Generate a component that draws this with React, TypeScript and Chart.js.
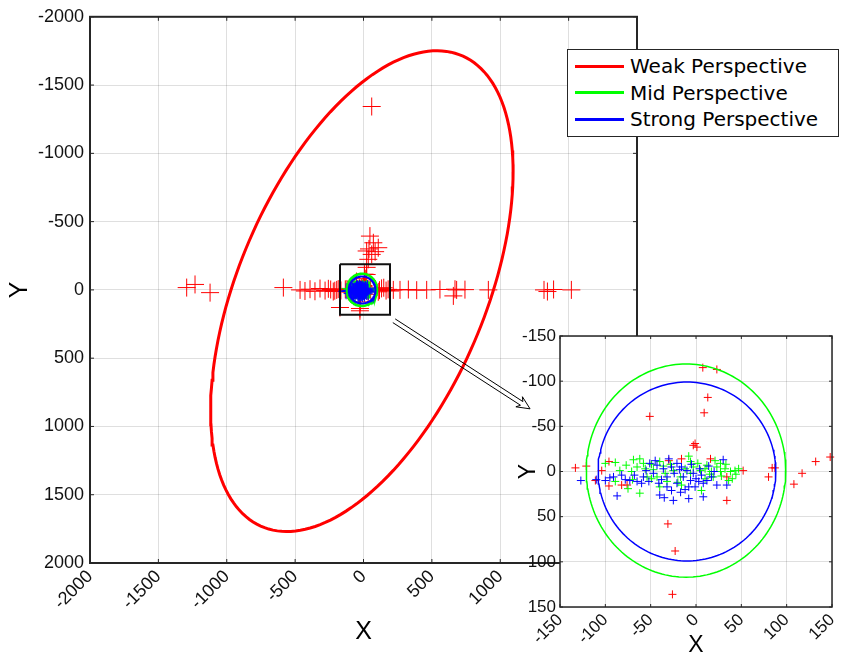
import { useEffect, useRef } from 'react';
import { Chart, registerables } from 'chart.js';

Chart.register(...registerables);
Chart.defaults.font.family = '"Liberation Sans", Arial, Helvetica, sans-serif';

// ---------- data ----------
const RED_X = [
  -1293, -1232, -1122, -586,
  -464, -428, -391, -355, -318, -281, -257, -240, -221, -210, -196, -185, -165,
  -172, -26,
  47, 72, 108, 23, 60, 35, 23, 40, 85,
  60,
  165, 180, 195, 218, 267, 328, 389, 462, 559, 669, 657, 681, 742, 913,
  1320, 1345, 1390, 1520,
  // central (visible in the zoom)
  7.5, 23, 13, 9, -51, -1, 1, -3, -133, -121, -104, -111, -96, -96, -30, -16, 16,
  -76, -82, 52, 34, 34, 80, 84, 87, 108, 117, 132, 148, -31, -23, -26,
];
const RED_Y = [
  -17, -40, 20, -17,
  0, 8, -5, 10, -10, 5, -8, -3, 12, 6, 0, -6, 4,
  129, 153,
  -394, -345, -309, -285, -260, -224, -165, -300, -280,
  -1343,
  5, -4, 8, 0, 0, -3, 2, 0, -3, -5, 44, 0, -2, 0,
  0, 12, -3, 0,
  -115, -113, -82, -65, -61, -31, -27, -29, -4, -6, -1, 10, -11, 16, -12, -14, -14,
  15, 15, -1, 6, 32, 6, -4, -4, 14, 2, -11, -16, 58, 88, 136,
];

const GREEN_X = [
  -100, -89, -77, -69, -62, -65, -71, -75, -62, -56, -49, -43, -40, -34, -25, -17,
  -8, -3, 5, 12, 17, 23, 27, 32, 38, 43, 47, 36, 6, -54, -84, -32, 19, -6, -89,
  27, 40, 10, -16, -40, -49, -58, -47, -28, -12, 2, 15, 28, 44, -70, -36, -20, 21,
  33, -6, 10,
];
const GREEN_Y = [
  -9, -10, -7, -13, -14, -5, 0, 19, 24, -3, -8, 6, -11, 2, -1, 6,
  -17, -5, -1, -7, 0, -5, 0, -3, 0, -1, -3, 10, 21, 6, -1, 11, 6, 2, 11,
  -9, 8, 8, 15, 17, 8, -9, -2, -8, -3, -9, 3, 5, 3, 9, -6, 12, -12,
  -8, -11, -3,
];

const BLUE_X = [
  -127, -87, -100, -91, -82, -73, -65, -58, -52, -51, -43, -47, -40, -35, -25, -8,
  8, -32, -27, -21, -14, -10, -3, 3, 8, 12, 17, 23, 30, 34, -27, -21, -16, -36,
  -32, -6, -1, 6, -8, -17, -41, -60, -45, -30, -18, -5, 4, 14, -38, -24, -12, 0,
  20, -55, -68, -78, -95, -110,
];
const BLUE_Y = [
  10, 27, 10, 6, 4, 10, 11, 6, 11, -9, -7, 2, 26, 29, 32, 30,
  28, 17, 21, 13, 6, -1, 2, 11, 13, 10, 6, 15, -13, 15, -5, -9, -5, -3,
  6, 10, 17, 4, 17, 23, 13, 13, -12, -14, -2, -8, -3, -6, 9, 2, 20, 8,
  0, -1, 4, 9, 7, 9,
];

// red confidence ellipse: centre and covariance-like shape matrix
const ELLIPSE_CENTER = [-12, 9];
const ELLIPSE_SHAPE = [[1223236, -967000], [-967000, 3099360]];
// green / blue bounds: [cx, cy, rx, ry]
const GREEN_BOUND = [-11, -1, 110, 118];
const BLUE_BOUND = [-10, 0, 98, 99];

// zoom box and arrow (data units of the main axes)
const BOX_X = [-172, 194, 194, -172, -172];
const BOX_Y = [-188, -188, 182, 182, -188];
const ARROW_FROM = [223, 226];
const ARROW_TO = [1218, 871];

const MAIN_TICKS = [-2000, -1500, -1000, -500, 0, 500, 1000, 1500, 2000];
const MAIN_X_LABELS = ['-2000', '-1500', '-1000', '-500', '0', '500', '1000', '', ''];
const MAIN_Y_LABELS = ['-2000', '-1500', '-1000', '-500', '0', '500', '1000', '1500', '2000'];
const INSET_TICKS = [-150, -100, -50, 0, 50, 100, 150];
const INSET_LABELS = ['-150', '-100', '-50', '0', '50', '100', '150'];

const SERIES = ['Weak Perspective', 'Mid Perspective', 'Strong Perspective'];
const COLORS = ['#ff0000', '#00ff00', '#0000ff'];

// ---------- helpers ----------
const N_SEG = 180;
function ellipseFromShape(c: number[], m: number[][]) {
  const l11 = Math.sqrt(m[0][0]);
  const l21 = m[0][1] / l11;
  const l22 = Math.sqrt(m[1][1] - l21 * l21);
  const pts = [];
  for (let i = 0; i <= N_SEG; i++) {
    const t = (2 * Math.PI * i) / N_SEG;
    pts.push({ x: c[0] + l11 * Math.cos(t), y: c[1] + l21 * Math.cos(t) + l22 * Math.sin(t) });
  }
  return pts;
}
function ellipseFromBound(b: number[]) {
  const pts = [];
  for (let i = 0; i <= N_SEG; i++) {
    const t = (2 * Math.PI * i) / N_SEG;
    pts.push({ x: b[0] + b[2] * Math.cos(t), y: b[1] + b[3] * Math.sin(t) });
  }
  return pts;
}
const zip = (xs: number[], ys: number[]) => xs.map((x, i) => ({ x, y: ys[i] }));
const inRange = (lim: number) => (p: { x: number; y: number }) =>
  Math.abs(p.x) <= lim && Math.abs(p.y) <= lim;

const GRID = 'rgba(38,38,38,0.15)';
const AXIS = '#262626';

function framePlugin(tickLen: number, lineW: number, whiteBg: boolean) {
  return {
    id: 'frame',
    beforeDraw(chart: any) {
      if (!whiteBg) return;
      const { ctx, chartArea: a } = chart;
      ctx.save();
      ctx.fillStyle = '#ffffff';
      ctx.fillRect(a.left, a.top, a.right - a.left, a.bottom - a.top);
      ctx.restore();
    },
    afterDraw(chart: any) {
      const { ctx, chartArea: a } = chart;
      const sx = chart.scales.x;
      const sy = chart.scales.y;
      ctx.save();
      ctx.strokeStyle = AXIS;
      ctx.lineWidth = 1;
      ctx.beginPath();
      sx.ticks.forEach((t: any) => {
        const p = sx.getPixelForValue(t.value);
        ctx.moveTo(p, a.bottom);
        ctx.lineTo(p, a.bottom - tickLen);
        ctx.moveTo(p, a.top);
        ctx.lineTo(p, a.top + tickLen);
      });
      sy.ticks.forEach((t: any) => {
        const p = sy.getPixelForValue(t.value);
        ctx.moveTo(a.left, p);
        ctx.lineTo(a.left + tickLen, p);
        ctx.moveTo(a.right, p);
        ctx.lineTo(a.right - tickLen, p);
      });
      ctx.stroke();
      ctx.lineWidth = lineW;
      ctx.strokeRect(a.left, a.top, a.right - a.left, a.bottom - a.top);
      ctx.restore();
    },
  };
}

const arrowPlugin = {
  id: 'arrow',
  afterDatasetsDraw(chart: any) {
    const sx = chart.scales.x;
    const sy = chart.scales.y;
    const x0 = sx.getPixelForValue(ARROW_FROM[0]);
    const y0 = sy.getPixelForValue(ARROW_FROM[1]);
    const x1 = sx.getPixelForValue(ARROW_TO[0]);
    const y1 = sy.getPixelForValue(ARROW_TO[1]);
    const len = Math.hypot(x1 - x0, y1 - y0);
    const ux = (x1 - x0) / len;
    const uy = (y1 - y0) / len;
    const nx = -uy;
    const ny = ux;
    const g = 2.2;
    const hl = 13;
    const hw = 6;
    const { ctx } = chart;
    ctx.save();
    ctx.strokeStyle = '#000';
    ctx.lineWidth = 1;
    ctx.beginPath();
    for (const s of [1, -1]) {
      ctx.moveTo(x0 + s * g * nx, y0 + s * g * ny);
      ctx.lineTo(x1 - ux * (hl - 3) + s * g * nx, y1 - uy * (hl - 3) + s * g * ny);
      ctx.lineTo(x1 - ux * hl + s * hw * nx, y1 - uy * hl + s * hw * ny);
      ctx.lineTo(x1, y1);
    }
    ctx.stroke();
    ctx.restore();
  },
};

function makeScale(opts: any) {
  const { ticks, labels, reverse, fontSize, padding, title, titleSize, titlePad, titleLH, horizontal, fit } = opts;
  return {
    type: 'linear',
    min: ticks[0],
    max: ticks[ticks.length - 1],
    reverse,
    afterBuildTicks: (s: any) => {
      s.ticks = ticks.map((v: number) => ({ value: v }));
    },
    afterFit: (s: any) => {
      if (horizontal) {
        s.height = fit;
        s.paddingRight = 0;
      } else {
        s.width = fit;
      }
    },
    ticks: {
      autoSkip: false,
      minRotation: horizontal ? 45 : 0,
      maxRotation: horizontal ? 45 : 0,
      padding,
      color: '#111',
      font: { size: fontSize },
      callback: (v: number) => {
        const i = ticks.indexOf(v);
        return i >= 0 ? labels[i] : '';
      },
    },
    grid: { color: GRID, lineWidth: 1, drawTicks: false },
    border: { display: false },
    title: {
      display: true,
      text: title,
      color: '#000',
      font: { size: titleSize, lineHeight: titleLH },
      padding: horizontal ? { top: 0, bottom: titlePad } : { top: titlePad, bottom: 0 },
    },
  };
}

function pointsDs(data: any[], color: string, r: number, order: number, clip: any) {
  return {
    data,
    showLine: false,
    pointStyle: 'cross',
    pointRadius: r,
    pointBorderWidth: 1,
    borderColor: color,
    backgroundColor: color,
    order,
    clip,
  };
}
function lineDs(data: any[], color: string, w: number, order: number) {
  return {
    data,
    showLine: true,
    pointRadius: 0,
    borderColor: color,
    backgroundColor: color,
    borderWidth: w,
    fill: false,
    tension: 0,
    order,
  };
}

export default function App() {
  const mainRef = useRef<HTMLCanvasElement>(null);
  const insetRef = useRef<HTMLCanvasElement>(null);

  useEffect(() => {
    const red = zip(RED_X, RED_Y);
    const green = zip(GREEN_X, GREEN_Y);
    const blue = zip(BLUE_X, BLUE_Y);
    const ell = ellipseFromShape(ELLIPSE_CENTER, ELLIPSE_SHAPE);
    const gC = ellipseFromBound(GREEN_BOUND);
    const bC = ellipseFromBound(BLUE_BOUND);
    const box = zip(BOX_X, BOX_Y);

    const main = new Chart(mainRef.current as HTMLCanvasElement, {
      type: 'scatter',
      data: {
        datasets: [
          pointsDs(red, COLORS[0], 9, 9, false),
          pointsDs(green, COLORS[1], 8, 8, false),
          pointsDs(blue, COLORS[2], 8, 7, false),
          lineDs(ell, COLORS[0], 3, 4),
          lineDs(gC, COLORS[1], 2.5, 3),
          lineDs(bC, COLORS[2], 2, 2),
          lineDs(box, '#111', 2, 1),
        ] as any,
      },
      options: {
        animation: false,
        responsive: false,
        devicePixelRatio: 1,
        events: [],
        layout: { padding: { left: 0, top: 15, right: 205, bottom: 0 } },
        plugins: { legend: { display: false }, tooltip: { enabled: false } },
        scales: {
          x: makeScale({ ticks: MAIN_TICKS, labels: MAIN_X_LABELS, reverse: false, fontSize: 18, padding: 3, title: 'X', titleSize: 25, titlePad: 10, titleLH: 1.2, horizontal: true, fit: 94 }),
          y: makeScale({ ticks: MAIN_TICKS, labels: MAIN_Y_LABELS, reverse: true, fontSize: 18, padding: 6, title: 'Y', titleSize: 25, titlePad: 5, titleLH: 1.2, horizontal: false, fit: 90 }),
        } as any,
      },
      plugins: [framePlugin(4, 2, false), arrowPlugin],
    });

    const lim = INSET_TICKS[INSET_TICKS.length - 1];
    const inset = new Chart(insetRef.current as HTMLCanvasElement, {
      type: 'scatter',
      data: {
        datasets: [
          pointsDs(red.filter(inRange(lim)), COLORS[0], 4, 9, false),
          pointsDs(green.filter(inRange(lim)), COLORS[1], 4, 8, false),
          pointsDs(blue.filter(inRange(lim)), COLORS[2], 4, 7, false),
          lineDs(gC, COLORS[1], 1.5, 3),
          lineDs(bC, COLORS[2], 1.5, 2),
        ] as any,
      },
      options: {
        animation: false,
        responsive: false,
        devicePixelRatio: 1,
        events: [],
        layout: { padding: { left: 0, top: 16, right: 10, bottom: 0 } },
        plugins: { legend: { display: false }, tooltip: { enabled: false } },
        scales: {
          x: makeScale({ ticks: INSET_TICKS, labels: INSET_LABELS, reverse: false, fontSize: 17, padding: 3, title: 'X', titleSize: 23, titlePad: 0, titleLH: 1, horizontal: true, fit: 50 }),
          y: makeScale({ ticks: INSET_TICKS, labels: INSET_LABELS, reverse: true, fontSize: 17, padding: 4, title: 'Y', titleSize: 23, titlePad: 15, titleLH: 1.2, horizontal: false, fit: 60 }),
        } as any,
      },
      plugins: [framePlugin(3, 1.5, true)],
    });

    return () => {
      main.destroy();
      inset.destroy();
    };
  }, []);

  return (
    <div style={{ position: 'absolute', left: 0, top: 0, width: 842, height: 657, background: '#fff', overflow: 'hidden' }}>
      <canvas ref={mainRef} width={842} height={657} style={{ position: 'absolute', left: 0, top: 0 }} />
      <canvas ref={insetRef} width={342} height={337} style={{ position: 'absolute', left: 500, top: 320 }} />
      <div
        style={{
          position: 'absolute',
          left: 567,
          top: 49,
          width: 272,
          height: 88,
          border: '1px solid #262626',
          background: '#fff',
          fontFamily: '"DejaVu Sans", sans-serif',
          fontSize: 20,
          color: '#000',
          boxSizing: 'border-box',
        }}
      >
        {SERIES.map((s, i) => (
          <div key={s} style={{ position: 'absolute', left: 0, top: 3 + i * 26.7, height: 26, display: 'flex', alignItems: 'center' }}>
            <span style={{ display: 'inline-block', marginLeft: 7, width: 49, height: 3, background: COLORS[i] }} />
            <span style={{ marginLeft: 6, whiteSpace: 'nowrap' }}>{s}</span>
          </div>
        ))}
      </div>
    </div>
  );
}
